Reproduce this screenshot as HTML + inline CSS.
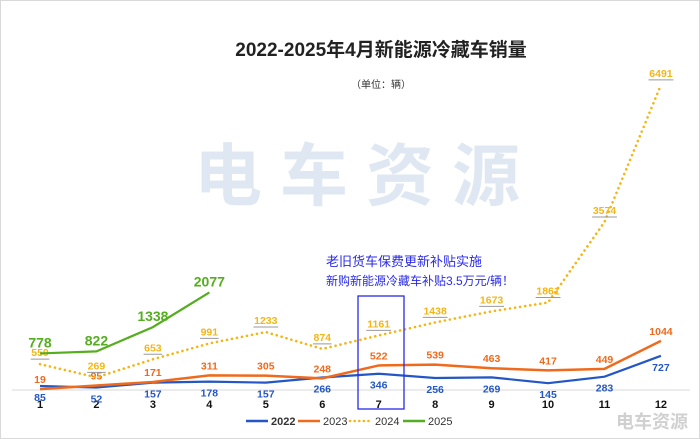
<!DOCTYPE html>
<html><head><meta charset="utf-8"><style>
body{margin:0;background:#fff;}
svg{display:block;font-family:"Liberation Sans","Noto Sans CJK SC",sans-serif;}
</style></head><body>
<svg id="chart" width="700" height="439" viewBox="0 0 700 439">
<rect x="0.5" y="0.5" width="699" height="438" fill="#fff" stroke="#d9d9d9"/>
<text x="381" y="56" text-anchor="middle" font-size="19" font-weight="bold" fill="#222">2022-2025年4月新能源冷藏车销量</text>
<text x="381" y="88" text-anchor="middle" font-size="10" fill="#333">（单位：辆）</text>
<text x="366" y="200" text-anchor="middle" font-size="68" font-weight="bold" fill="#dfe8f2" letter-spacing="18">电车资源</text>
<text x="326" y="266" font-size="13" fill="#2a2ae8">老旧货车保费更新补贴实施</text>
<text x="326" y="285" font-size="12" fill="#2a2ae8">新购新能源冷藏车补贴3.5万元/辆！</text>
<line x1="12" y1="390" x2="690" y2="390" stroke="#d9d9d9"/>
<g id="xt"></g>
<g id="series"></g>
<rect x="358" y="296" width="46" height="113" fill="none" stroke="#2a2ae8" stroke-width="1.3"/>
<g id="legend"></g>
<text x="688" y="428" text-anchor="end" font-size="18" font-weight="bold" fill="#d0d0d0">电车资源</text>
</svg>
<script>
const months=["1","2","3","4","5","6","7","8","9","10","11","12"];
const s2022=[85,52,157,178,157,266,346,256,269,145,283,727];
const s2023=[19,95,171,311,305,248,522,539,463,417,449,1044];
const s2024=[550,269,653,991,1233,874,1161,1438,1673,1861,3574,6491];
const s2025=[778,822,1338,2077];
const seriesNames=["2022","2023","2024","2025"];
const NS="http://www.w3.org/2000/svg";
const x=i=>40+i*56.45;
const y=v=>390-v*0.047;
const svg=document.getElementById('chart');
function mk(t,a,p){const e=document.createElementNS(NS,t);for(const k in a)e.setAttribute(k,a[k]);p.appendChild(e);return e;}
const xt=document.getElementById('xt');
months.forEach((m,i)=>{const t=mk('text',{x:x(i),y:408,'text-anchor':'middle','font-size':11,'font-weight':'bold',fill:'#111'},xt);t.textContent=m;

});
const cfg=[
 {d:s2022,c:'#2457c5',dash:null,lo:15,w:2.2},
 {d:s2023,c:'#ef6a1c',dash:null,lo:-6,w:2.5},
 {d:s2024,c:'#f5b512',dash:'0.1,5',lo:-8,w:2.6,ul:true},
 {d:s2025,c:'#55ae1f',dash:null,lo:-6,w:2.2,big:true}];
const g=document.getElementById('series');
cfg.forEach((s,si)=>{
 const pts=s.d.map((v,i)=>x(i)+','+y(v)).join(' ');
 const pl=mk('polyline',{points:pts,fill:'none',stroke:s.c,'stroke-width':s.w},g);
 if(s.dash){pl.setAttribute('stroke-dasharray',s.dash);pl.setAttribute('stroke-linecap','round');}
 
 
 s.d.forEach((v,i)=>{
  const ly=y(v)+s.lo;
  const t=mk('text',{x:x(i),y:ly,'text-anchor':'middle','font-size':s.big?14:10.5,'font-weight':'bold',fill:s.c},g);
  t.textContent=v;
  
  
  if(s.ul){const w=String(v).length*6.2;const u=mk('line',{x1:x(i)-w/2,x2:x(i)+w/2,y1:ly+3,y2:ly+3,stroke:'#999','stroke-width':1},g);
   
   }
 });
});
const lg=document.getElementById('legend');
const lx=[246,298,350,403];
cfg.forEach((s,si)=>{
 const l=mk('line',{x1:lx[si],x2:lx[si]+22,y1:421,y2:421,stroke:s.c,'stroke-width':2.5},lg);
 if(s.dash){l.setAttribute('stroke-dasharray','0.1,4.5');l.setAttribute('stroke-linecap','round');}
 
 
 const t=mk('text',{x:lx[si]+25,y:425,'font-size':11,fill:'#333','font-weight':si==0?'bold':'normal'},lg);
 t.textContent=seriesNames[si];
 
 
});
</script>
</body></html>
